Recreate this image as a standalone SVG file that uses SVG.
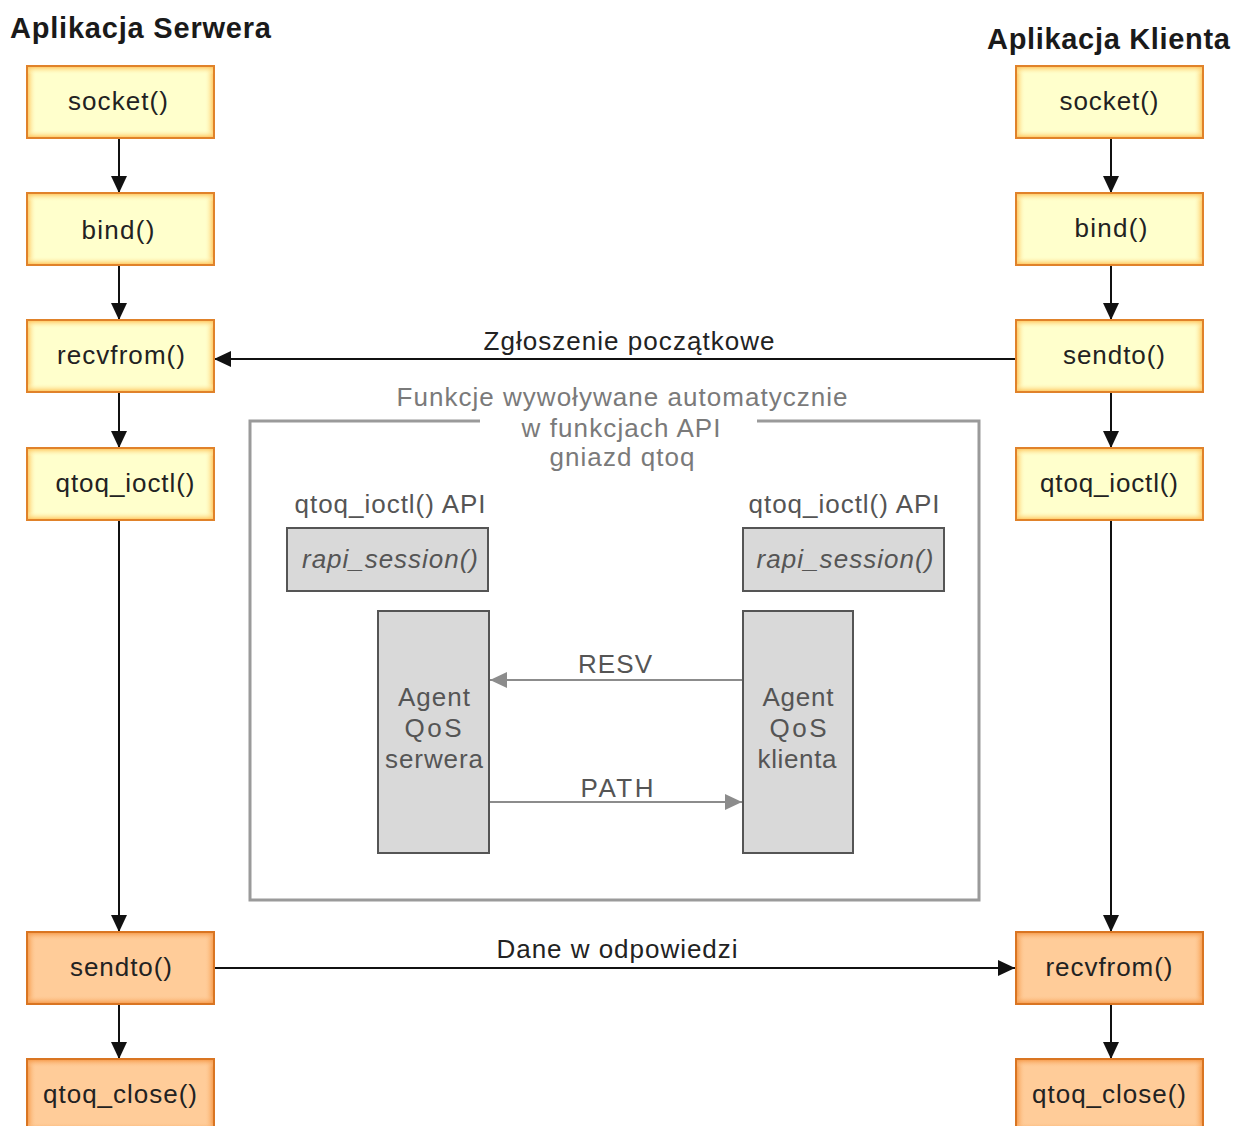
<svg xmlns="http://www.w3.org/2000/svg" width="1234" height="1126" viewBox="0 0 1234 1126">
<style>
text{font-family:"Liberation Sans",Arial,sans-serif}
.t{font-size:26px;fill:#222;text-anchor:middle}
.h{font-size:29px;font-weight:bold;fill:#1a1a1a}
.g{font-size:26px;fill:#7a7a7a;text-anchor:middle}
.a{font-size:26px;fill:#555;text-anchor:middle}
.ln{stroke:#111;stroke-width:2;fill:none}
.gl{stroke:#8c8c8c;stroke-width:2;fill:none}
.bdy{stroke:#E0822A;stroke-width:2;fill:none}
.bdo{stroke:#D97522;stroke-width:2;fill:none}
.gb{fill:#D9D9D9;stroke:#555;stroke-width:2}
</style>
<defs>
<linearGradient id="yh" x1="0" y1="0" x2="1" y2="0"><stop offset="0" stop-color="#FFBE50"/><stop offset="0.05" stop-color="#FFFFCC" stop-opacity="0"/><stop offset="0.95" stop-color="#FFFFCC" stop-opacity="0"/><stop offset="1" stop-color="#FFBE50"/></linearGradient>
<linearGradient id="yv" x1="0" y1="0" x2="0" y2="1"><stop offset="0" stop-color="#FFBE50"/><stop offset="0.12" stop-color="#FFFFCC" stop-opacity="0"/><stop offset="0.88" stop-color="#FFFFCC" stop-opacity="0"/><stop offset="1" stop-color="#FFBE50"/></linearGradient>
<linearGradient id="oh" x1="0" y1="0" x2="1" y2="0"><stop offset="0" stop-color="#F59440"/><stop offset="0.05" stop-color="#FFCC99" stop-opacity="0"/><stop offset="0.95" stop-color="#FFCC99" stop-opacity="0"/><stop offset="1" stop-color="#F59440"/></linearGradient>
<linearGradient id="ov" x1="0" y1="0" x2="0" y2="1"><stop offset="0" stop-color="#F59440"/><stop offset="0.12" stop-color="#FFCC99" stop-opacity="0"/><stop offset="0.88" stop-color="#FFCC99" stop-opacity="0"/><stop offset="1" stop-color="#F59440"/></linearGradient>
<marker id="ab" markerUnits="userSpaceOnUse" markerWidth="18" markerHeight="16" refX="17" refY="8" orient="auto"><path d="M0,0 L17,8 L0,16 Z" fill="#111"/></marker>
<marker id="ag" markerUnits="userSpaceOnUse" markerWidth="18" markerHeight="16" refX="17" refY="8" orient="auto"><path d="M0,0 L17,8 L0,16 Z" fill="#8c8c8c"/></marker>
</defs>
<rect width="1234" height="1126" fill="#fff"/>

<text class="h" x="10" y="38" textLength="261" lengthAdjust="spacing">Aplikacja Serwera</text>
<text class="h" x="987" y="49" textLength="243" lengthAdjust="spacing">Aplikacja Klienta</text>

<g id="connectors">
<line class="ln" x1="119" y1="138" x2="119" y2="193" marker-end="url(#ab)"/>
<line class="ln" x1="119" y1="265" x2="119" y2="320" marker-end="url(#ab)"/>
<line class="ln" x1="119" y1="392" x2="119" y2="448" marker-end="url(#ab)"/>
<line class="ln" x1="119" y1="520" x2="119" y2="932" marker-end="url(#ab)"/>
<line class="ln" x1="119" y1="1004" x2="119" y2="1059" marker-end="url(#ab)"/>
<line class="ln" x1="1111" y1="138" x2="1111" y2="193" marker-end="url(#ab)"/>
<line class="ln" x1="1111" y1="265" x2="1111" y2="320" marker-end="url(#ab)"/>
<line class="ln" x1="1111" y1="392" x2="1111" y2="448" marker-end="url(#ab)"/>
<line class="ln" x1="1111" y1="520" x2="1111" y2="932" marker-end="url(#ab)"/>
<line class="ln" x1="1111" y1="1004" x2="1111" y2="1059" marker-end="url(#ab)"/>
<line class="ln" x1="1015" y1="359" x2="214" y2="359" marker-end="url(#ab)"/>
<text class="t" x="629" y="350" fill="#111" textLength="291" lengthAdjust="spacing">Zgłoszenie początkowe</text>
<line class="ln" x1="214" y1="968" x2="1015" y2="968" marker-end="url(#ab)"/>
<text class="t" x="617" y="958" textLength="241" lengthAdjust="spacing">Dane w odpowiedzi</text>
<line class="gl" x1="743" y1="680" x2="490" y2="680" marker-end="url(#ag)"/>
<text class="a" x="615" y="673" textLength="74" lengthAdjust="spacing">RESV</text>
<line class="gl" x1="490" y1="802" x2="742" y2="802" marker-end="url(#ag)"/>
<text class="a" x="617" y="797" textLength="73" lengthAdjust="spacing">PATH</text>
</g>

<g id="frame">
<path d="M480,421 H250 V900 H979 V421 H757" fill="none" stroke="#9a9a9a" stroke-width="3"/>
<text class="g" x="622" y="406" textLength="451" lengthAdjust="spacing">Funkcje wywoływane automatycznie</text>
<text class="g" x="621" y="437" textLength="199" lengthAdjust="spacing">w funkcjach API</text>
<text class="g" x="622" y="466" textLength="145" lengthAdjust="spacing">gniazd qtoq</text>
</g>

<g id="s-socket"><rect x="27" y="66" width="187" height="72" fill="#FFFFCC"/><rect x="27" y="66" width="187" height="72" fill="url(#yh)"/><rect x="27" y="66" width="187" height="72" fill="url(#yv)"/><rect class="bdy" x="27" y="66" width="187" height="72"/><text class="t" x="118" y="110" textLength="100" lengthAdjust="spacing">socket()</text></g>
<g id="s-bind"><rect x="27" y="193" width="187" height="72" fill="#FFFFCC"/><rect x="27" y="193" width="187" height="72" fill="url(#yh)"/><rect x="27" y="193" width="187" height="72" fill="url(#yv)"/><rect class="bdy" x="27" y="193" width="187" height="72"/><text class="t" x="118" y="239" textLength="73" lengthAdjust="spacing">bind()</text></g>
<g id="s-recvfrom"><rect x="27" y="320" width="187" height="72" fill="#FFFFCC"/><rect x="27" y="320" width="187" height="72" fill="url(#yh)"/><rect x="27" y="320" width="187" height="72" fill="url(#yv)"/><rect class="bdy" x="27" y="320" width="187" height="72"/><text class="t" x="121" y="364" textLength="128" lengthAdjust="spacing">recvfrom()</text></g>
<g id="s-ioctl"><rect x="27" y="448" width="187" height="72" fill="#FFFFCC"/><rect x="27" y="448" width="187" height="72" fill="url(#yh)"/><rect x="27" y="448" width="187" height="72" fill="url(#yv)"/><rect class="bdy" x="27" y="448" width="187" height="72"/><text class="t" x="125" y="492" textLength="139" lengthAdjust="spacing">qtoq_ioctl()</text></g>
<g id="s-sendto"><rect x="27" y="932" width="187" height="72" fill="#FFCC99"/><rect x="27" y="932" width="187" height="72" fill="url(#oh)"/><rect x="27" y="932" width="187" height="72" fill="url(#ov)"/><rect class="bdo" x="27" y="932" width="187" height="72"/><text class="t" x="121" y="976" textLength="102" lengthAdjust="spacing">sendto()</text></g>
<g id="s-close"><rect x="27" y="1059" width="187" height="72" fill="#FFCC99"/><rect x="27" y="1059" width="187" height="72" fill="url(#oh)"/><rect x="27" y="1059" width="187" height="72" fill="url(#ov)"/><rect class="bdo" x="27" y="1059" width="187" height="72"/><text class="t" x="120" y="1103" textLength="154" lengthAdjust="spacing">qtoq_close()</text></g>

<g id="c-socket"><rect x="1016" y="66" width="187" height="72" fill="#FFFFCC"/><rect x="1016" y="66" width="187" height="72" fill="url(#yh)"/><rect x="1016" y="66" width="187" height="72" fill="url(#yv)"/><rect class="bdy" x="1016" y="66" width="187" height="72"/><text class="t" x="1109" y="110" textLength="99" lengthAdjust="spacing">socket()</text></g>
<g id="c-bind"><rect x="1016" y="193" width="187" height="72" fill="#FFFFCC"/><rect x="1016" y="193" width="187" height="72" fill="url(#yh)"/><rect x="1016" y="193" width="187" height="72" fill="url(#yv)"/><rect class="bdy" x="1016" y="193" width="187" height="72"/><text class="t" x="1111" y="237" textLength="73" lengthAdjust="spacing">bind()</text></g>
<g id="c-sendto"><rect x="1016" y="320" width="187" height="72" fill="#FFFFCC"/><rect x="1016" y="320" width="187" height="72" fill="url(#yh)"/><rect x="1016" y="320" width="187" height="72" fill="url(#yv)"/><rect class="bdy" x="1016" y="320" width="187" height="72"/><text class="t" x="1114" y="364" textLength="102" lengthAdjust="spacing">sendto()</text></g>
<g id="c-ioctl"><rect x="1016" y="448" width="187" height="72" fill="#FFFFCC"/><rect x="1016" y="448" width="187" height="72" fill="url(#yh)"/><rect x="1016" y="448" width="187" height="72" fill="url(#yv)"/><rect class="bdy" x="1016" y="448" width="187" height="72"/><text class="t" x="1109" y="492" textLength="138" lengthAdjust="spacing">qtoq_ioctl()</text></g>
<g id="c-recvfrom"><rect x="1016" y="932" width="187" height="72" fill="#FFCC99"/><rect x="1016" y="932" width="187" height="72" fill="url(#oh)"/><rect x="1016" y="932" width="187" height="72" fill="url(#ov)"/><rect class="bdo" x="1016" y="932" width="187" height="72"/><text class="t" x="1109" y="976" textLength="127" lengthAdjust="spacing">recvfrom()</text></g>
<g id="c-close"><rect x="1016" y="1059" width="187" height="72" fill="#FFCC99"/><rect x="1016" y="1059" width="187" height="72" fill="url(#oh)"/><rect x="1016" y="1059" width="187" height="72" fill="url(#ov)"/><rect class="bdo" x="1016" y="1059" width="187" height="72"/><text class="t" x="1109" y="1103" textLength="154" lengthAdjust="spacing">qtoq_close()</text></g>

<g id="s-rapi">
<text class="a" x="390" y="513" textLength="191" lengthAdjust="spacing">qtoq_ioctl() API</text>
<rect class="gb" x="287" y="528" width="201" height="63"/>
<text class="a" x="390" y="568" font-style="italic" textLength="176" lengthAdjust="spacing">rapi_session()</text>
</g>
<g id="c-rapi">
<text class="a" x="844" y="513" textLength="191" lengthAdjust="spacing">qtoq_ioctl() API</text>
<rect class="gb" x="743" y="528" width="201" height="63"/>
<text class="a" x="845" y="568" font-style="italic" textLength="177" lengthAdjust="spacing">rapi_session()</text>
</g>
<g id="s-agent">
<rect class="gb" x="378" y="611" width="111" height="242"/>
<text class="a" x="434" y="706" textLength="72" lengthAdjust="spacing">Agent</text>
<text class="a" x="433" y="737" textLength="57" lengthAdjust="spacing">QoS</text>
<text class="a" x="434" y="768" textLength="98" lengthAdjust="spacing">serwera</text>
</g>
<g id="c-agent">
<rect class="gb" x="743" y="611" width="110" height="242"/>
<text class="a" x="798" y="706" textLength="71" lengthAdjust="spacing">Agent</text>
<text class="a" x="798" y="737" textLength="57" lengthAdjust="spacing">QoS</text>
<text class="a" x="797" y="768" textLength="79" lengthAdjust="spacing">klienta</text>
</g>
</svg>
